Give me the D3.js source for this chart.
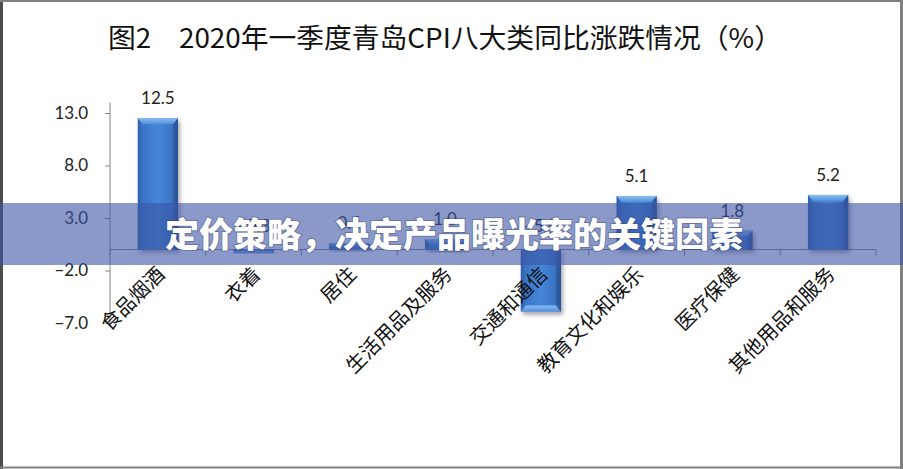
<!DOCTYPE html>
<html>
<head>
<meta charset="utf-8">
<script src="https://cdn.jsdelivr.net/npm/d3@7"></script>
<style>
  html, body { margin: 0; padding: 0; background: #fff; }
  svg { display: block; }
</style>
</head>
<body>
<div id="chart"></div>
<script>
const title = '图2\u30002020年一季度青岛CPI八大类同比涨跌情况（%）';
const banner = '定价策略，决定产品曝光率的关键因素';
const categories = ['食品烟酒', '衣着', '居住', '生活用品及服务', '交通和通信', '教育文化和娱乐', '医疗保健', '其他用品和服务'];
const values = [12.5, -0.3, 0.6, 1.0, -5.9, 5.1, 1.8, 5.2];
const yTicks = [-7, -2, 3, 8, 13];

const W = 903, H = 469;
const plot = { left: 110, right: 876, top: 102.5, bottom: 323 };

const svg = d3.select('#chart').append('svg')
    .attr('width', W)
    .attr('height', H);

const defs = svg.append('defs');

// bar body: darker edges, lighter middle
const body = defs.append('linearGradient').attr('id', 'barBody')
    .attr('x1', '0%').attr('x2', '100%').attr('y1', '0%').attr('y2', '0%');
[['0%', '#2f5ea8'], ['12%', '#3b74c6'], ['50%', '#4586d8'], ['88%', '#3a72c2'], ['100%', '#2b5598']]
    .forEach(([o, c]) => body.append('stop').attr('offset', o).attr('stop-color', c));

const bevel = defs.append('linearGradient').attr('id', 'bevel')
    .attr('x1', '0%').attr('x2', '0%').attr('y1', '0%').attr('y2', '100%');
bevel.append('stop').attr('offset', '0%').attr('stop-color', '#8dbdf0');
bevel.append('stop').attr('offset', '100%').attr('stop-color', '#4f8fdc');

const shadow = defs.append('filter').attr('id', 'shadow')
    .attr('x', '-30%').attr('y', '-30%').attr('width', '160%').attr('height', '160%');
shadow.append('feDropShadow')
    .attr('dx', 2).attr('dy', 3).attr('stdDeviation', 2)
    .attr('flood-color', '#000').attr('flood-opacity', 0.35);

// Scales
const x = d3.scaleBand()
    .domain(categories)
    .range([plot.left, plot.right])
    .paddingInner(0.58)
    .paddingOuter(0.29);

const y = d3.scaleLinear()
    .domain([-7, 14])
    .range([plot.bottom, plot.top]);

// Title
svg.append('text')
    .attr('x', 108).attr('y', 48)
    .attr('textLength', 674).attr('lengthAdjust', 'spacingAndGlyphs')
    .style('font-family', '"Noto Sans CJK SC", sans-serif')
    .style('font-size', '27px')
    .attr('fill', '#111')
    .text(title);

// Y axis
const yAxis = svg.append('g')
    .attr('transform', `translate(${plot.left},0)`)
    .call(d3.axisLeft(y).tickValues(yTicks).tickSize(5).tickPadding(17).tickFormat(d3.format('.1f')));
yAxis.select('.domain').attr('stroke', '#868686').attr('d', `M0,${plot.top}V${plot.bottom}`);
yAxis.selectAll('.tick line').attr('stroke', '#868686');
yAxis.selectAll('.tick text')
    .style('font-family', 'Lato, "Open Sans", sans-serif')
    .style('font-size', '17px')
    .attr('fill', '#222');

// Zero line with category boundary ticks
const step = x.step();
const xAxis = svg.append('g').attr('transform', `translate(0,${y(0)})`);
xAxis.append('line')
    .attr('x1', plot.left).attr('x2', plot.right)
    .attr('stroke', '#868686');
xAxis.selectAll('.ctick')
    .data(d3.range(categories.length + 1))
    .join('line')
    .attr('class', 'ctick')
    .attr('x1', i => plot.left + i * step).attr('x2', i => plot.left + i * step)
    .attr('y1', 0).attr('y2', 6)
    .attr('stroke', '#868686');

// Bars
const bw = x.bandwidth();
const bars = svg.append('g').selectAll('g.bar')
    .data(categories.map((c, i) => ({ c, v: values[i] })))
    .join('g')
    .attr('class', 'bar')
    .attr('filter', 'url(#shadow)');

bars.append('rect')
    .attr('x', d => x(d.c))
    .attr('y', d => y(Math.max(0, d.v)))
    .attr('width', bw)
    .attr('height', d => Math.abs(y(d.v) - y(0)))
    .attr('fill', 'url(#barBody)');

// bevelled end of each bar
bars.append('path')
    .attr('d', d => {
        const x0 = x(d.c), x1 = x0 + bw;
        const h = Math.min(6, Math.abs(y(d.v) - y(0)) / 2);
        const e = Math.min(5, h);
        const yt = y(d.v);
        const s = d.v >= 0 ? 1 : -1;
        return `M${x0},${yt}L${x1},${yt}L${x1 - e},${yt + s * h}L${x0 + e},${yt + s * h}Z`;
    })
    .attr('fill', 'url(#bevel)');

bars.append('path')
    .attr('d', d => {
        const x1 = x(d.c) + bw;
        const yt = y(d.v), yb = y(0);
        const h = Math.min(6, Math.abs(yt - yb) / 2);
        const e = Math.min(5, h);
        const s = d.v >= 0 ? 1 : -1;
        return `M${x1},${yt}L${x1 - e},${yt + s * h}L${x1 - e},${yb}L${x1},${yb}Z`;
    })
    .attr('fill', '#27508f')
    .attr('opacity', 0.5);

// Value labels
svg.append('g').selectAll('text')
    .data(categories.map((c, i) => ({ c, v: values[i] })))
    .join('text')
    .attr('x', d => x(d.c) + bw / 2)
    .attr('y', d => d.v >= 0 ? y(d.v) - 14 : y(0) - 18)
    .attr('text-anchor', 'middle')
    .style('font-family', 'Lato, "Open Sans", sans-serif')
    .style('font-size', '17px')
    .attr('fill', '#222')
    .text(d => d3.format('.1f')(d.v));

// Category labels, rotated
svg.append('g').selectAll('text')
    .data(categories)
    .join('text')
    .attr('transform', d => `translate(${x(d) + bw / 2 + 8},${y(0) + 26}) rotate(-45)`)
    .attr('text-anchor', 'end')
    .style('font-family', '"Noto Sans CJK SC", sans-serif')
    .style('font-size', '20px')
    .attr('fill', '#111')
    .text(d => d);

// Frame
svg.append('line').attr('x1', 1.5).attr('x2', 1.5).attr('y1', 0).attr('y2', H).attr('stroke', '#4d4d4d').attr('stroke-width', 3);
svg.append('line').attr('x1', 0).attr('x2', W).attr('y1', 1).attr('y2', 1).attr('stroke', '#808080').attr('stroke-width', 2);
svg.append('line').attr('x1', W - 1.5).attr('x2', W - 1.5).attr('y1', 0).attr('y2', H).attr('stroke', '#808080').attr('stroke-width', 3);
svg.append('line').attr('x1', 0).attr('x2', W).attr('y1', H - 1.5).attr('y2', H - 1.5).attr('stroke', '#808080').attr('stroke-width', 2);

// Overlay banner
svg.append('rect')
    .attr('x', 0).attr('y', 203)
    .attr('width', W).attr('height', 62)
    .attr('fill', 'rgb(60,85,165)')
    .attr('fill-opacity', 0.6);

svg.append('text')
    .attr('x', 165).attr('y', 247)
    .style('font-family', '"Noto Sans CJK SC", sans-serif')
    .style('font-size', '34px')
    .style('font-weight', 900)
    .attr('fill', '#fff')
    .style('paint-order', 'stroke')
    .attr('stroke', 'rgba(40,50,90,0.35)')
    .attr('stroke-width', 2)
    .text(banner);
</script>
</body>
</html>
